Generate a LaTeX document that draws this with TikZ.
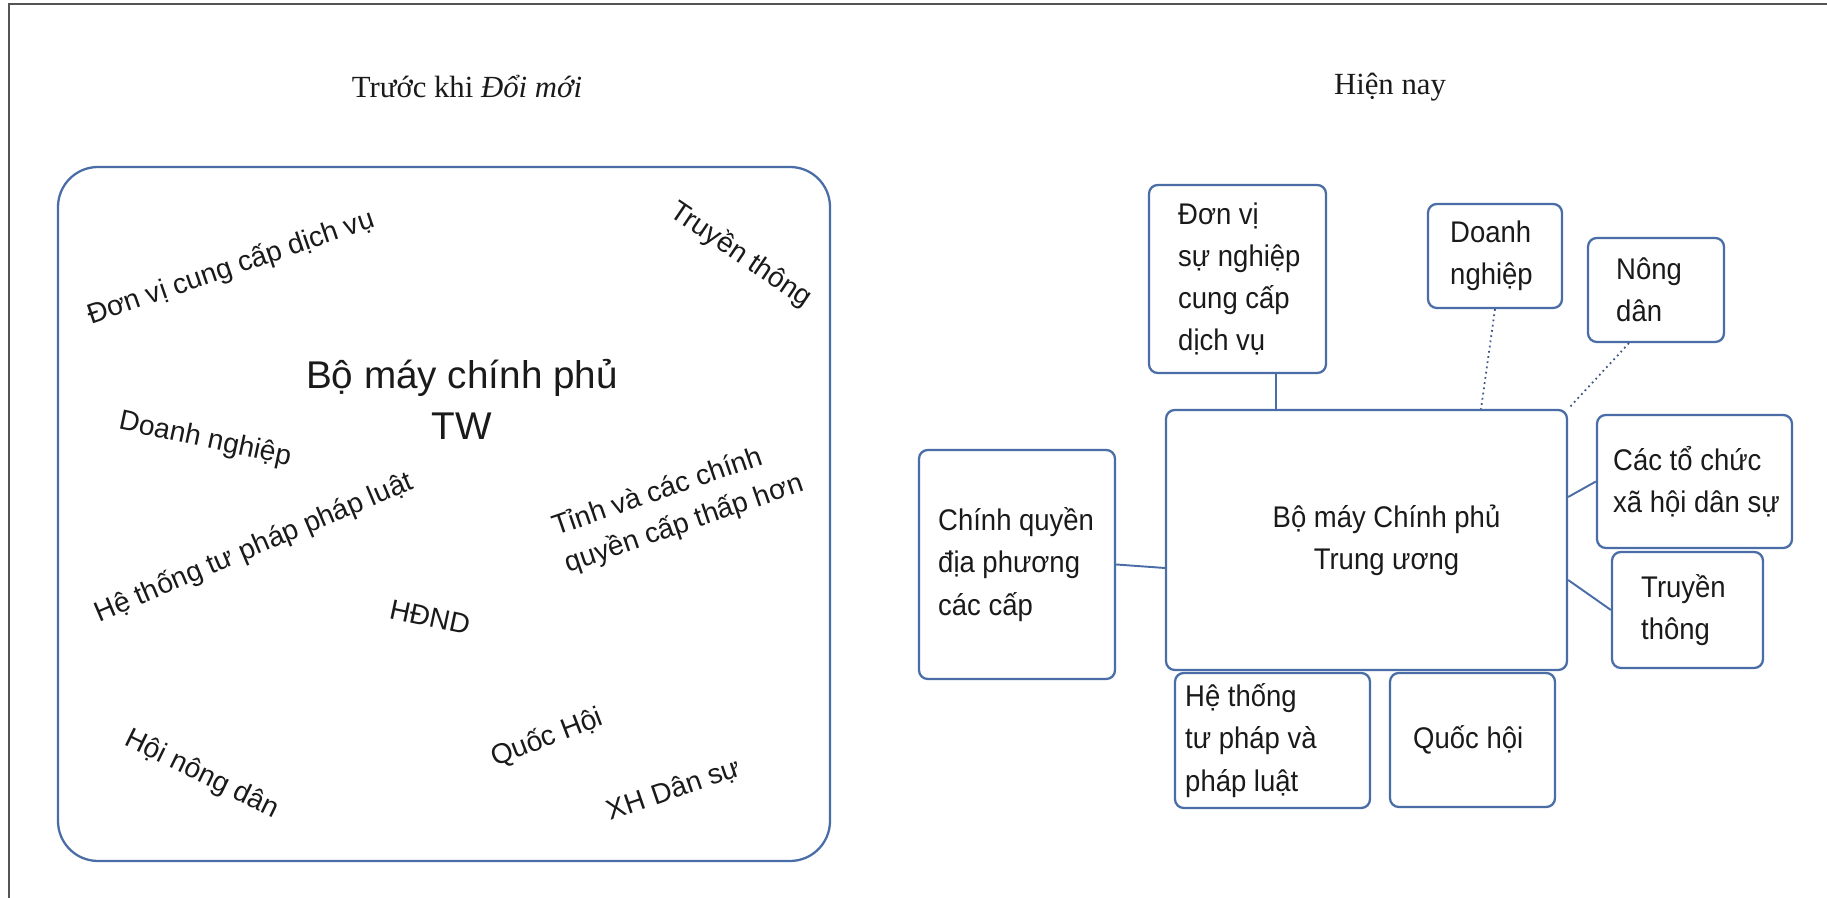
\documentclass[tikz,border=0pt]{standalone}
\usepackage{fontspec}
\setmainfont{Liberation Serif}
\setsansfont{Liberation Sans}
\newfontfamily\narrowsans[FakeStretch=0.92]{Liberation Sans}
\usetikzlibrary{positioning}
\definecolor{boxblue}{HTML}{4A6DA7}
\definecolor{framegray}{HTML}{555555}
\definecolor{inkblack}{HTML}{1A1A1A}
\tikzset{
  govbox/.style={draw=boxblue, line width=1.3pt, rounded corners=5pt, inner sep=0pt},
  oldframe/.style={draw=boxblue, line width=1.3pt, rounded corners=0.8cm},
  boxtext/.style={align=left, inner sep=0pt, text=inkblack,
    font=\narrowsans\fontsize{17pt}{24pt}\selectfont},
  tilttext/.style={align=left, inner sep=0pt, text=inkblack,
    font=\sffamily\fontsize{16pt}{22pt}\selectfont},
  bigtext/.style={align=center, inner sep=0pt, text=inkblack,
    font=\sffamily\fontsize{22pt}{29pt}\selectfont},
  headtext/.style={inner sep=0pt, text=inkblack,
    font=\rmfamily\fontsize{17.5pt}{21pt}\selectfont},
  link/.style={draw=boxblue, line width=1.1pt},
  dotlink/.style={draw=boxblue!80!black, line width=1pt, dotted}
}
\begin{document}
\begin{tikzpicture}
    \useasboundingbox (0,0) rectangle (36.54,17.96);
    \draw[framegray, line width=1.2pt] (0.18,0) -- (0.18,17.88) -- (36.54,17.88);

    % truoc khi doi moi
    \node[headtext] (oldhead) at (9.34,16.22) {Trước khi \textit{Đổi mới}};
    \draw[oldframe] (1.16,0.74) rectangle (16.6,14.62);
    \node[bigtext] (oldgov) at (9.24,9.98) {Bộ máy chính phủ\\TW};
    \node[tilttext, rotate=19] (olddv) at (4.62,12.6) {Đơn vị cung cấp dịch vụ};
    \node[tilttext, rotate=-34] (oldtt) at (14.82,12.86) {Truyền thông};
    \node[tilttext, rotate=-12] (olddn) at (4.1,9.16) {Doanh nghiệp};
    \node[tilttext, rotate=23] (oldtp) at (5.08,7.0) {Hệ thống tư pháp pháp luật};
    \node[tilttext, rotate=19] (oldtinh) at (13.56,7.84) {Tỉnh và các chính\\quyền cấp thấp hơn};
    \node[tilttext, rotate=-12] (oldhd) at (8.6,5.62) {HĐND};
    \node[tilttext, rotate=-26] (oldnd) at (4.04,2.46) {Hội nông dân};
    \node[tilttext, rotate=21] (oldqh) at (10.94,3.2) {Quốc Hội};
    \node[tilttext, rotate=19] (oldxh) at (13.48,2.16) {XH Dân sự};

    % hien nay
    \node[headtext] (newhead) at (27.8,16.22) {Hiện nay};
    \node[govbox, minimum width=8.02cm, minimum height=5.2cm] (gov) at (27.33,7.16) {};
    \node[boxtext, align=center] (govtext) at ([xshift=4mm]gov.center) {Bộ máy Chính phủ\\Trung ương};

    \node[govbox, minimum width=3.54cm, minimum height=3.76cm] (dv) at (24.75,12.38) {};
    \node[boxtext, right=0.6cm of dv.west] (dvtext) {Đơn vị\\sự nghiệp\\cung cấp\\dịch vụ};
    \node[govbox, minimum width=2.68cm, minimum height=2.08cm] (dn) at (29.9,12.84) {};
    \node[boxtext, right=0.46cm of dn.west] (dntext) {Doanh\\nghiệp};
    \node[govbox, minimum width=2.72cm, minimum height=2.08cm] (nd) at (33.12,12.16) {};
    \node[boxtext, right=0.58cm of nd.west] (ndtext) {Nông\\dân};
    \node[govbox, minimum width=3.92cm, minimum height=4.58cm] (cq) at (20.34,6.67) {};
    \node[boxtext, right=0.4cm of cq.west] (cqtext) {Chính quyền\\địa phương\\các cấp};
    \node[govbox, minimum width=3.9cm, minimum height=2.66cm] (xh) at (33.89,8.33) {};
    \node[boxtext, right=0.34cm of xh.west] (xhtext) {Các tổ chức\\xã hội dân sự};
    \node[govbox, minimum width=3.02cm, minimum height=2.32cm] (tt) at (33.75,5.76) {};
    \node[boxtext, right=0.6cm of tt.west] (tttext) {Truyền\\thông};
    \node[govbox, minimum width=3.9cm, minimum height=2.7cm] (tp) at (25.45,3.15) {};
    \node[boxtext, right=0.22cm of tp.west] (tptext) {Hệ thống\\tư pháp và\\pháp luật};
    \node[govbox, minimum width=3.3cm, minimum height=2.68cm] (qh) at (29.45,3.16) {};
    \node[boxtext, right=0.48cm of qh.west] (qhtext) {Quốc hội};

    \draw[link] ([xshift=7.7mm]dv.south) -- ([xshift=7.7mm]dv.south |- gov.north);
    \draw[dotlink] (dn.south) -- ([xshift=22.9mm]gov.north);
    \draw[dotlink] ([xshift=-5.4mm]nd.south) -- (gov.north east);
    \draw[link] ([yshift=8.6mm]gov.east) -- (xh.west);
    \draw[link] ([yshift=-8mm]gov.east) -- (tt.west);
    \draw[link] (cq.east) -- ([yshift=-5.6mm]gov.west);
  \end{tikzpicture}
\end{document}
